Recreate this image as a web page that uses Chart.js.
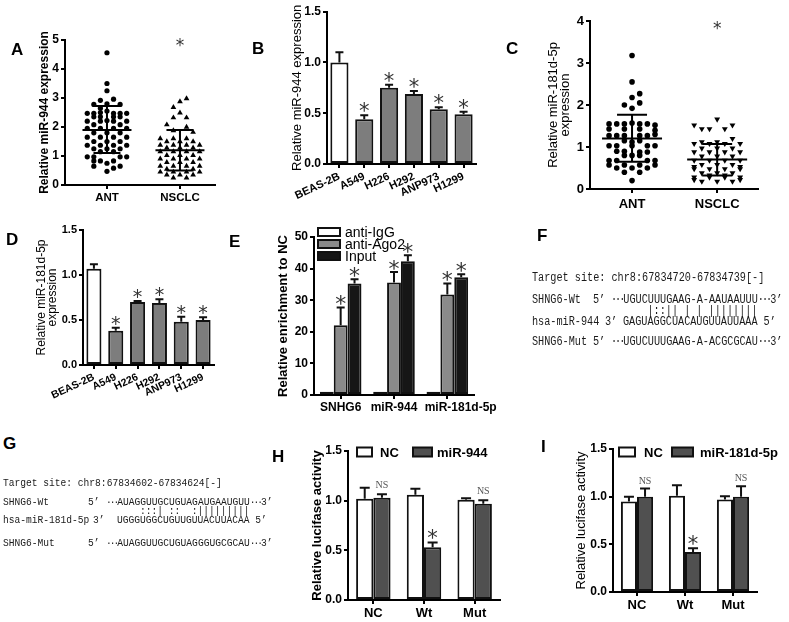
<!DOCTYPE html>
<html><head><meta charset="utf-8">
<script src="https://cdn.jsdelivr.net/npm/chart.js@4.4.1/dist/chart.umd.min.js"></script>
<style>
html,body{margin:0;padding:0;background:#fff}
body{position:relative;width:789px;height:622px;overflow:hidden;font-family:"Liberation Sans",Arial,sans-serif}
canvas{position:absolute}
.lt{position:absolute;font-weight:bold;font-size:17px;line-height:17px;color:#000}
.sq{position:absolute;font-family:"Liberation Mono",monospace;white-space:pre;color:#1a1a1a;transform:scaleY(1.2);transform-origin:0 50%;will-change:transform;-webkit-font-smoothing:antialiased}
.dt{letter-spacing:-2px}
</style></head><body>
<script>
// ================= DATA =================
const scatterCats = ['ANT', 'NSCLC'];
// Panel A  [value, column slot]
const aANT = [[4.56,0],[3.5,0],[3.25,0],[2.92,-1],[2.96,1],[2.78,-2],[2.8,0],[2.78,2],[2.65,-1],
 [2.47,-3],[2.47,-2],[2.5,-1],[2.55,0],[2.47,1],[2.47,2],[2.47,3],
 [2.35,-2],[2.35,-1],[2.35,1],[2.35,2],
 [2.2,-3],[2.2,-1],[2.22,0],[2.2,1],[2.2,3],
 [2.08,-2],[2.08,2],
 [1.95,-3],[1.95,-1],[1.95,1],[1.95,3],
 [1.8,-2],[1.8,0],[1.8,2],
 [1.65,-3],[1.65,-1],[1.65,1],[1.65,3],
 [1.5,-2],[1.5,0],[1.5,2],
 [1.37,-3],[1.37,-1],[1.37,1],[1.37,3],
 [1.25,-2],[1.25,0],[1.25,2],
 [1.15,-1],[1.15,1],
 [0.97,-3],[0.97,-2],[0.97,2],[0.97,3],
 [0.83,-2],[0.83,-1],[0.83,1],
 [0.75,0],[0.65,-2],[0.65,2],[0.58,1],[0.47,0]];
const aNSCLC = [[2.98,1],[2.88,0],[2.68,-1],[2.49,0],[2.32,-1],[2.32,1],[2.08,-2],[2.0,1],
 [1.88,-1],[1.82,2],[1.6,-3],[1.6,-1],[1.6,1],
 [1.5,-2],[1.5,0],[1.5,2],
 [1.38,-3],[1.38,-1],[1.38,1],[1.38,3],
 [1.28,-2],[1.28,0],[1.28,2],
 [1.15,-3],[1.15,-1],[1.15,1],[1.15,3],
 [1.02,-2],[1.02,0],[1.02,2],
 [0.9,-3],[0.9,-1],[0.9,1],[0.9,3],
 [0.78,-2],[0.78,0],[0.78,2],
 [0.65,-3],[0.65,-1],[0.65,1],[0.65,3],
 [0.55,-2],[0.55,2],
 [0.45,-3],[0.45,-1],[0.45,1],[0.45,3],
 [0.35,-2],[0.35,0],[0.35,2],
 [0.25,-1],[0.25,1]];
const aMean = [1.9, 1.2], aSdLow = [1.1, 0.5], aSdHigh = [2.72, 1.9], aSig = ['', '*'];

// Panel C
const cANT = [[3.18,0],[2.55,0],[2.27,1],[2.18,0],[2.05,1],[2.0,-1],[1.92,0],
 [1.55,-3],[1.55,-2],[1.55,-1],[1.57,0],[1.55,1],[1.55,2],[1.52,3],
 [1.43,-3],[1.43,-1],[1.43,1],[1.4,3],
 [1.27,-3],[1.27,-2],[1.27,-1],[1.27,1],[1.27,2],[1.3,3],
 [1.15,-1],[1.12,0],[1.15,1],
 [1.03,-3],[1.03,-2],[1.03,0],[1.03,2],[1.03,3],
 [0.9,-2],[0.9,-1],[0.88,1],[0.88,2],
 [0.8,-1],[0.8,0],[0.8,1],
 [0.68,-3],[0.68,-2],[0.68,2],[0.68,3],
 [0.57,-3],[0.57,-1],[0.57,1],[0.57,3],
 [0.5,-2],[0.5,0],[0.5,2],
 [0.4,-1],[0.4,1],[0.2,0]];
const cNSCLC = [[1.66,0],[1.52,-3],[1.52,2],[1.43,-2],[1.43,-1],[1.43,1],[1.2,2],
 [1.12,-2],[1.12,0],
 [1.08,-3],[1.08,-1],[1.08,1],[1.08,3],
 [0.97,-2],[0.97,0],[0.97,2],
 [0.88,-3],[0.88,-1],[0.88,1],[0.88,3],
 [0.78,-2],[0.78,0],[0.78,2],
 [0.68,-3],[0.68,-1],[0.68,1],[0.68,3],
 [0.58,-2],[0.58,0],[0.58,2],
 [0.48,-3],[0.48,-1],[0.48,1],[0.48,3],
 [0.38,-2],[0.38,0],[0.38,2],
 [0.28,-3],[0.28,-1],[0.28,1],[0.28,3],
 [0.18,-2],[0.18,0],[0.18,2],
 [0.22,-3],[0.22,3],[0.33,-1],[0.33,1],[0.53,-3],[0.53,3]];
const cMean = [1.2, 0.7], cSdLow = [0.65, 0.32], cSdHigh = [1.77, 1.07], cSig = ['', '*'];

// Panel B
const cellLines = ['BEAS-2B', 'A549', 'H226', 'H292', 'ANP973', 'H1299'];
const bVals = [1.0, 0.44, 0.75, 0.69, 0.54, 0.49];
const bErr  = [0.10, 0.04, 0.03, 0.03, 0.02, 0.025];
const bSig  = ['', '*', '*', '*', '*', '*'];
// Panel D
const dVals = [1.07, 0.38, 0.70, 0.69, 0.48, 0.50];
const dErr  = [0.05, 0.035, 0.01, 0.04, 0.055, 0.03];
const dSig  = ['', '*', '*', '*', '*', '*'];

// Panel E
const eCats = ['SNHG6', 'miR-944', 'miR-181d-5p'];
const eSeries = ['anti-IgG', 'anti-Ago2', 'Input'];
const eIgG = [1, 1, 1],          eIgGErr = [0, 0, 0];
const eAgo2 = [22.1, 35.6, 31.8], eAgo2Err = [5.6, 3.3, 3.5];
const eInput = [35.3, 42.3, 37.3], eInputErr = [1.3, 1.9, 0.9];
const eSig = ['*', '*', '*'];

// Panels H, I
const lucCats = ['NC', 'Wt', 'Mut'];
const hSeries = ['NC', 'miR-944'];
const hNC = [1.02, 1.06, 1.01],  hNCErr = [0.11, 0.06, 0.015];
const hMiR = [1.03, 0.53, 0.97], hMiRErr = [0.035, 0.05, 0.035];
const hSig = ['NS', '*', 'NS'];
const iSeries = ['NC', 'miR-181d-5p'];
const iNC = [0.95, 1.01, 0.97],  iNCErr = [0.05, 0.11, 0.035];
const iMiR = [1.0, 0.42, 1.0],   iMiRErr = [0.085, 0.04, 0.11];
const iSig = ['NS', '*', 'NS'];

// Panels F, G (sequence text)
const fTarget = 'Target site: chr8:67834720-67834739[-]';
const fWt = 'UGUCUUUGAAG-A-AAUAAUUU', fPair = '    |::|| | | ||||||||';
const fMiR = 'GAGUAGGCUACAUGUUAUUAAA', fMut = 'UGUCUUUGAAG-A-ACGCGCAU';
const gTarget = 'Target site: chr8:67834602-67834624[-]';
const gWt = 'AUAGGUUGCUGUAGAUGAAUGUU', gPair = '    :::| ::  :|||||||||';
const gMiR = 'UGGGUGGCUGUUGUUACUUACAA', gMut = 'AUAGGUUGCUGUAGGGUGCGCAU';

// ================= RENDER =================
Chart.defaults.font.family = '"Liberation Sans", Arial, sans-serif';
Chart.defaults.color = '#000';
const COL = 0.09;

function mkCanvas(b) {
  const c = document.createElement('canvas');
  c.width = b.w; c.height = b.h;
  c.style.left = b.x + 'px'; c.style.top = b.y + 'px';
  c.style.width = b.w + 'px'; c.style.height = b.h + 'px';
  document.body.appendChild(c);
  return c;
}
function letter(ch, x, capTop) {
  const d = document.createElement('div'); d.className = 'lt'; d.textContent = ch;
  d.style.left = x + 'px'; d.style.top = (capTop - 2.2) + 'px';
  document.body.appendChild(d);
}
function seqLine(x, yc, size, pieces) {
  const d = document.createElement('div'); d.className = 'sq';
  d.style.left = x + 'px'; d.style.top = (yc - 0.422 * size) + 'px';
  d.style.fontSize = size + 'px'; d.style.lineHeight = size + 'px';
  pieces.forEach(p => {
    const s = document.createElement('span');
    if (typeof p === 'string') s.textContent = p; else { s.textContent = p.t; s.className = 'dt'; }
    d.appendChild(s);
  });
  document.body.appendChild(d);
}
const DOTS = {t: '\u00b7\u00b7\u00b7'};

function drawStar(ctx, x, bottomY, size) {
  ctx.save();
  ctx.font = size + 'px "DejaVu Sans"';
  ctx.fillStyle = '#333'; ctx.textAlign = 'center'; ctx.textBaseline = 'alphabetic';
  const m = ctx.measureText('*');
  ctx.fillText('*', x, bottomY - m.actualBoundingBoxDescent);
  ctx.restore();
}
function drawNS(ctx, x, y) {
  ctx.save();
  ctx.font = '10px "Liberation Serif"'; ctx.fillStyle = '#555';
  ctx.textAlign = 'center'; ctx.textBaseline = 'alphabetic';
  ctx.fillText('NS', x, y);
  ctx.restore();
}

function yAxis(box, area, o) {
  const lh = o.tSize * o.tLH;
  return {
    type: 'linear', min: o.min, max: o.max,
    afterFit: s => { s.width = area.l - box.x; },
    border: {display: true, color: '#000', width: 2},
    grid: {drawOnChartArea: false, drawTicks: true, tickLength: 4, color: '#000', lineWidth: 2},
    ticks: {stepSize: o.step, color: '#000', padding: 2, font: {size: o.tick, weight: 'bold'},
      callback: v => o.dec ? Number(v).toFixed(1) : String(v)},
    title: {display: true, text: o.title, color: '#000',
      font: {size: o.tSize, weight: o.tBold ? 'bold' : 'normal', lineHeight: o.tLH},
      padding: {top: o.tx - box.x - lh / 2, bottom: 0}}
  };
}
function xGrid() {
  return {offset: false, drawOnChartArea: false, drawTicks: true, tickLength: 4, color: '#000', lineWidth: 2};
}
function baseOpts(box, area) {
  return {
    responsive: false, animation: false, events: [],
    layout: {padding: {left: 0, top: area.t - box.y, right: box.x + box.w - area.r, bottom: 0}},
    plugins: {legend: {display: false}, tooltip: {enabled: false}}
  };
}

function scatterChart(box, area, cfg) {
  const c = mkCanvas(box);
  const opts = baseOpts(box, area);
  opts.scales = {
    x: {type: 'linear', min: cfg.xmin, max: cfg.xmax,
      afterFit: s => { s.height = box.y + box.h - area.b; },
      afterBuildTicks: s => { s.ticks = [{value: 1}, {value: 2}]; },
      border: {display: true, color: '#000', width: 2}, grid: xGrid(),
      ticks: {color: '#000', padding: cfg.xPad, font: {size: cfg.xSize, weight: 'bold'},
        callback: v => scatterCats[Math.round(v) - 1] || ''}},
    y: yAxis(box, area, cfg.y)
  };
  new Chart(c, {
    type: 'scatter',
    data: {datasets: cfg.groups.map((g, i) => ({
      data: g.map(p => ({x: i + 1 + p[1] * COL, y: p[0]})),
      pointStyle: cfg.styles[i], pointRotation: cfg.rot[i], pointRadius: cfg.radius[i],
      pointBackgroundColor: '#000', pointBorderColor: '#000', pointBorderWidth: 0
    }))},
    options: opts,
    plugins: [{id: 'scDeco', afterDatasetsDraw(chart) {
      const ctx = chart.ctx, xs = chart.scales.x, ys = chart.scales.y;
      ctx.save(); ctx.strokeStyle = '#000'; ctx.lineWidth = 2;
      cfg.mean.forEach((m, i) => {
        const x = xs.getPixelForValue(i + 1);
        const ym = ys.getPixelForValue(m), yl = ys.getPixelForValue(cfg.lo[i]), yh = ys.getPixelForValue(cfg.hi[i]);
        ctx.beginPath();
        ctx.moveTo(x - cfg.meanHalf, ym); ctx.lineTo(x + cfg.meanHalf, ym);
        ctx.moveTo(x, yl); ctx.lineTo(x, yh);
        ctx.moveTo(x - cfg.capHalf, yl); ctx.lineTo(x + cfg.capHalf, yl);
        ctx.moveTo(x - cfg.capHalf, yh); ctx.lineTo(x + cfg.capHalf, yh);
        ctx.stroke();
        if (cfg.sig[i]) drawStar(ctx, x, chart.chartArea.top + cfg.starBottom, cfg.starSize);
      });
      ctx.restore();
    }}]
  });
}

function barChart(box, area, cfg) {
  const c = mkCanvas(box);
  const opts = baseOpts(box, area);
  opts.scales = {
    x: {type: 'category', offset: true,
      afterFit: s => { s.height = box.y + box.h - area.b; },
      border: {display: true, color: '#000', width: 2}, grid: xGrid(),
      ticks: {color: '#000', padding: cfg.xPad, autoSkip: false, minRotation: cfg.rotLab || 0, maxRotation: cfg.rotLab || 0,
        font: {size: cfg.xSize, weight: 'bold'},
        callback: (v, i) => '\u00a0'.repeat(cfg.lead ? cfg.lead[i] : 0) + cfg.labels[i]}},
    y: yAxis(box, area, cfg.y)
  };
  new Chart(c, {
    type: 'bar',
    data: {labels: cfg.labels, datasets: cfg.series.map(s => ({
      label: s.label, data: s.data, backgroundColor: s.color, borderColor: '#111', borderWidth: 2,
      borderSkipped: false, barPercentage: cfg.barPct, categoryPercentage: cfg.catPct
    }))},
    options: opts,
    plugins: [{id: 'barDeco', afterDatasetsDraw(chart) {
      const ctx = chart.ctx, ys = chart.scales.y;
      ctx.save();
      cfg.series.forEach((s, i) => {
        chart.getDatasetMeta(i).data.forEach((el, j) => {
          const v = s.data[j], e = s.err ? s.err[j] : 0;
          const yTop = ys.getPixelForValue(v), yErr = ys.getPixelForValue(v + e);
          if (e > 0) {
            ctx.strokeStyle = '#111'; ctx.lineWidth = 2; ctx.beginPath();
            ctx.moveTo(el.x, yTop); ctx.lineTo(el.x, yErr);
            ctx.moveTo(el.x - cfg.cap, yErr); ctx.lineTo(el.x + cfg.cap, yErr);
            ctx.stroke();
          }
          const t = s.sig ? s.sig[j] : '';
          if (t === '*') drawStar(ctx, el.x, yErr - cfg.starGap, cfg.starSize);
          else if (t === 'NS') drawNS(ctx, el.x, yErr - cfg.nsGap);
        });
      });
      if (cfg.legend) {
        const L = cfg.legend;
        L.items.forEach((it, k) => {
          const s = cfg.series[k];
          const bx = it.bx - box.x, by = it.cy - box.y;
          ctx.fillStyle = s.color; ctx.strokeStyle = '#111'; ctx.lineWidth = 2;
          ctx.fillRect(bx, by - it.bh / 2, it.bw, it.bh);
          ctx.strokeRect(bx, by - it.bh / 2, it.bw, it.bh);
          ctx.fillStyle = '#000'; ctx.font = L.font; ctx.textAlign = 'left'; ctx.textBaseline = 'middle';
          ctx.fillText(s.label, it.tx - box.x, by + 1);
        });
      }
      ctx.restore();
    }}]
  });
}

// ---- Panel A ----
scatterChart({x: 20, y: 25, w: 205, h: 190}, {l: 65, t: 40, r: 215, b: 185}, {
  groups: [aANT, aNSCLC], styles: ['circle', 'triangle'], rot: [0, 0], radius: [2.6, 3.3],
  mean: aMean, lo: aSdLow, hi: aSdHigh, sig: aSig, meanHalf: 24.5, capHalf: 13.5,
  starBottom: 7, starSize: 17, xmin: 0.425, xmax: 2.48, xSize: 11.5, xPad: 2,
  y: {min: 0, max: 5, step: 1, tick: 12, dec: false, title: 'Relative miR-944 expression', tSize: 12, tLH: 1.2, tBold: true, tx: 45}
});
// ---- Panel C ----
scatterChart({x: 525, y: 5, w: 255, h: 210}, {l: 590, t: 21, r: 758, b: 189}, {
  groups: [cANT, cNSCLC], styles: ['circle', 'triangle'], rot: [0, 180], radius: [2.8, 3.4],
  mean: cMean, lo: cSdLow, hi: cSdHigh, sig: cSig, meanHalf: 30, capHalf: 15,
  starBottom: 9, starSize: 17, xmin: 0.506, xmax: 2.48, xSize: 13, xPad: 4,
  y: {min: 0, max: 4, step: 1, tick: 13, dec: false, title: ['Relative miR-181d-5p', 'expression'], tSize: 13, tLH: 0.95, tBold: false, tx: 553}
});
// ---- Panel B ----
barChart({x: 240, y: 0, w: 245, h: 205}, {l: 327, t: 11.7, r: 476, b: 164}, {
  labels: cellLines,
  series: [{label: 'miR-944', data: bVals, err: bErr, sig: bSig,
    color: ['#ffffff', '#7d7d7d', '#7d7d7d', '#7d7d7d', '#7d7d7d', '#7d7d7d']}],
  barPct: 0.73, catPct: 1, cap: 4, starGap: 3, starSize: 21, xSize: 11, xPad: 2, rotLab: 25,
  y: {min: 0, max: 1.5, step: 0.5, tick: 12, dec: true, title: 'Relative miR-944 expression', tSize: 13, tLH: 1.2, tBold: false, tx: 297}
});
// ---- Panel D ----
barChart({x: 0, y: 215, w: 225, h: 190}, {l: 83, t: 230, r: 214, b: 365}, {
  labels: cellLines,
  series: [{label: 'miR-181d-5p', data: dVals, err: dErr, sig: dSig,
    color: ['#ffffff', '#7d7d7d', '#7d7d7d', '#7d7d7d', '#7d7d7d', '#7d7d7d']}],
  barPct: 0.69, catPct: 1, cap: 4, starGap: 3, starSize: 19, xSize: 10.5, xPad: 2, rotLab: 25,
  y: {min: 0, max: 1.5, step: 0.5, tick: 11, dec: true, title: ['Relative miR-181d-5p', 'expression'], tSize: 12, tLH: 0.9, tBold: false, tx: 42}
});
// ---- Panel E ----
barChart({x: 270, y: 222, w: 240, h: 195}, {l: 314, t: 237, r: 474, b: 395}, {
  labels: eCats, lead: [0, 0, 8],
  series: [
    {label: eSeries[0], data: eIgG, err: eIgGErr, color: '#ffffff'},
    {label: eSeries[1], data: eAgo2, err: eAgo2Err, sig: eSig, color: '#8a8a8a'},
    {label: eSeries[2], data: eInput, err: eInputErr, sig: eSig, color: '#161616'}],
  barPct: 1, catPct: 0.78, cap: 4, starGap: 2, starSize: 22, xSize: 12, xPad: 1,
  legend: {font: '14px "Liberation Sans"', items: [
    {bx: 318, cy: 232, bw: 22, bh: 8, tx: 345},
    {bx: 318, cy: 244, bw: 22, bh: 8, tx: 345},
    {bx: 318, cy: 256, bw: 22, bh: 8, tx: 345}]},
  y: {min: 0, max: 50, step: 10, tick: 12, dec: false, title: 'Relative enrichment to NC', tSize: 13, tLH: 1.2, tBold: true, tx: 283}
});
// ---- Panel H ----
barChart({x: 295, y: 435, w: 215, h: 187}, {l: 348, t: 451, r: 500, b: 600}, {
  labels: lucCats,
  series: [
    {label: hSeries[0], data: hNC, err: hNCErr, color: '#ffffff'},
    {label: hSeries[1], data: hMiR, err: hMiRErr, sig: hSig, color: '#505050'}],
  barPct: 1, catPct: 0.68, cap: 5, starGap: 3, starSize: 21, nsGap: 6, xSize: 13, xPad: 2,
  legend: {font: 'bold 13px "Liberation Sans"', items: [
    {bx: 357, cy: 452, bw: 15, bh: 9, tx: 380},
    {bx: 413, cy: 452, bw: 19, bh: 9, tx: 437}]},
  y: {min: 0, max: 1.5, step: 0.5, tick: 12, dec: true, title: 'Relative lucifase activity', tSize: 13, tLH: 1.2, tBold: true, tx: 317}
});
// ---- Panel I ----
barChart({x: 560, y: 435, w: 229, h: 187}, {l: 613, t: 449, r: 757, b: 592}, {
  labels: lucCats,
  series: [
    {label: iSeries[0], data: iNC, err: iNCErr, color: '#ffffff'},
    {label: iSeries[1], data: iMiR, err: iMiRErr, sig: iSig, color: '#505050'}],
  barPct: 1, catPct: 0.67, cap: 5, starGap: 3, starSize: 21, nsGap: 5, xSize: 13, xPad: 2,
  legend: {font: 'bold 13px "Liberation Sans"', items: [
    {bx: 619, cy: 452, bw: 16, bh: 9, tx: 644},
    {bx: 672, cy: 452, bw: 21, bh: 9, tx: 700}]},
  y: {min: 0, max: 1.5, step: 0.5, tick: 12, dec: true, title: 'Relative lucifase activity', tSize: 13, tLH: 1.2, tBold: false, tx: 581}
});

// ---- Panel F ----
seqLine(532, 278, 10.2, [fTarget]);
seqLine(532, 300, 10.2, ['SHNG6-Wt']); seqLine(593, 300, 10.2, ['5\u2019']);
seqLine(611, 300, 10.2, [DOTS, fWt, DOTS, '3\u2019']);
seqLine(623.4, 311, 10.2, [fPair]);
seqLine(532, 322, 10.2, ['hsa-miR-944']); seqLine(605, 322, 10.2, ['3\u2019']);
seqLine(623.4, 322, 10.2, [fMiR + ' 5\u2019']);
seqLine(532, 342, 10.2, ['SHNG6-Mut']); seqLine(593, 342, 10.2, ['5\u2019']);
seqLine(611, 342, 10.2, [DOTS, fMut, DOTS, '3\u2019']);
// ---- Panel G ----
seqLine(3, 483, 9.6, [gTarget]);
seqLine(3, 502, 9.6, ['SHNG6-Wt']); seqLine(88, 502, 9.6, ['5\u2019']);
seqLine(106, 502, 9.6, [DOTS, gWt, DOTS, '3\u2019']);
seqLine(117.3, 511, 9.6, [gPair]);
seqLine(3, 520, 9.6, ['hsa-miR-181d-5p']); seqLine(93, 520, 9.6, ['3\u2019']);
seqLine(117.3, 520, 9.6, [gMiR + ' 5\u2019']);
seqLine(3, 543, 9.6, ['SHNG6-Mut']); seqLine(88, 543, 9.6, ['5\u2019']);
seqLine(106, 543, 9.6, [DOTS, gMut, DOTS, '3\u2019']);

// ---- Panel letters ----
letter('A', 11, 43); letter('B', 252, 42); letter('C', 506, 42);
letter('D', 6, 233); letter('E', 229, 235); letter('F', 537, 229);
letter('G', 3, 437); letter('H', 272, 450); letter('I', 541, 440);
</script>
</body></html>
